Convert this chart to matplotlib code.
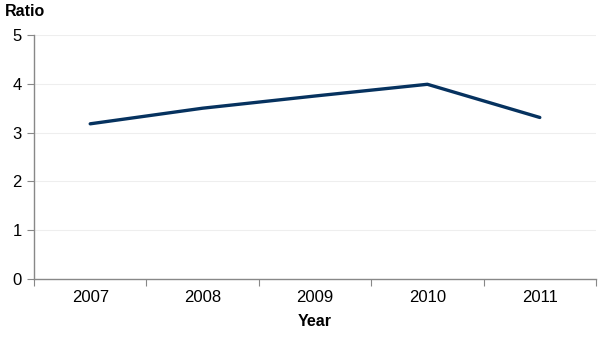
import matplotlib
matplotlib.use("Agg")
import matplotlib.pyplot as plt

years = ["2007", "2008", "2009", "2010", "2011"]
ratio = [3.18, 3.50, 3.75, 3.99, 3.31]
yticks = [0, 1, 2, 3, 4, 5]

plt.rcParams['font.family'] = ['Liberation Sans', 'DejaVu Sans']

fig = plt.figure(figsize=(6.03, 3.42), dpi=100)
ax = fig.add_axes([34/603, 1-279/342, (596-34)/603, (279-35)/342])

x = [i + 0.5 for i in range(len(years))]
ax.plot(x, ratio, color="#06325f", lw=2.4, solid_capstyle="round", zorder=3)

ax.set_xlim(0, len(years))
ax.set_ylim(0, 5)
ax.set_yticks(yticks)
ax.set_xticks(range(len(years) + 1))
ax.set_xticklabels([])
ax.set_xticks(x, minor=True)
ax.set_xticklabels(years, minor=True)
ax.tick_params(axis='x', which='minor', length=0, pad=8, labelsize=12)
ax.tick_params(axis='x', which='major', length=5, color="#888888", direction='out')
ax.tick_params(axis='y', length=5, color="#888888", labelsize=12, pad=4)

for y in yticks[1:]:
    ax.axhline(y, color="#eeeeee", lw=0.8, zorder=1)

for s in ["top", "right"]:
    ax.spines[s].set_visible(False)
for s in ["left", "bottom"]:
    ax.spines[s].set_color("#888888")
    ax.spines[s].set_linewidth(1)

fig.text(5/603, 1-12/342, "Ratio", fontsize=11.5, fontweight="bold", va="center", ha="left")
fig.text((34+596)/2/603, 1-322/342, "Year", fontsize=11.5, fontweight="bold", va="center", ha="center")

fig.savefig("out.png", dpi=100)
